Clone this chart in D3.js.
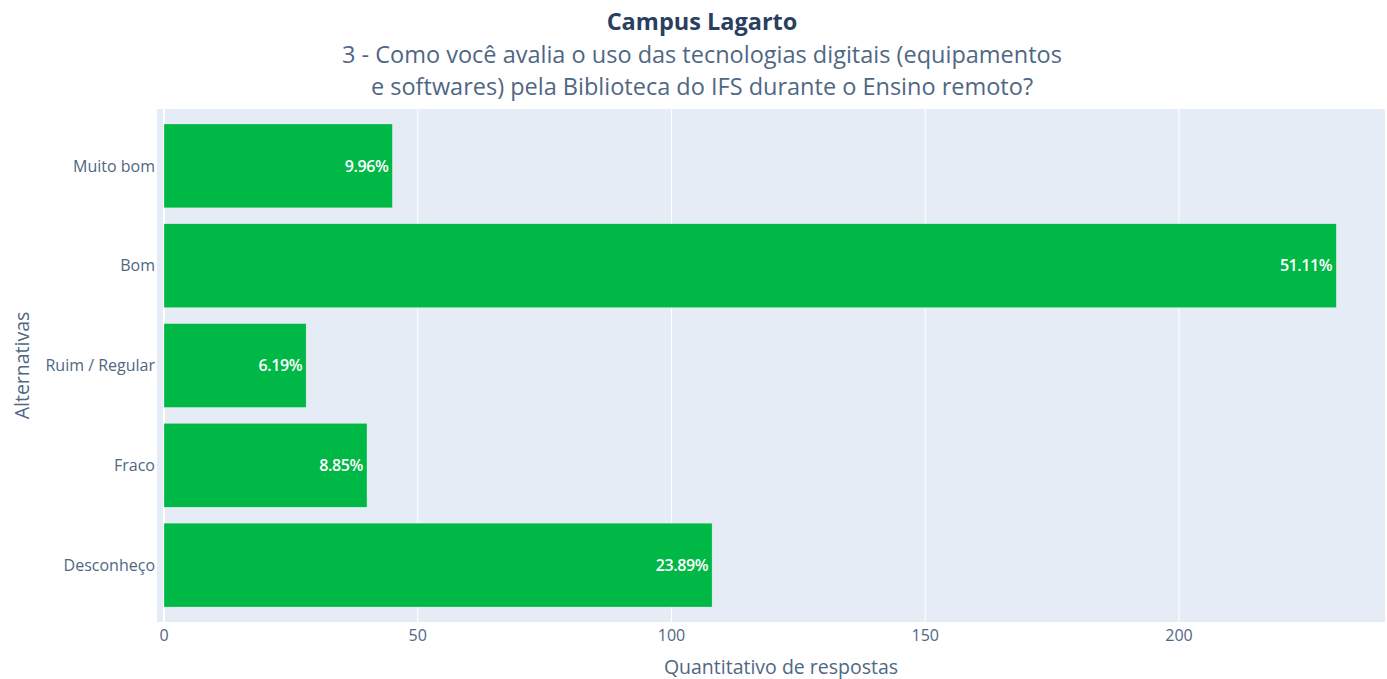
<!DOCTYPE html>
<html>
<head>
<meta charset="utf-8">
<script src="https://cdn.jsdelivr.net/npm/d3@7"></script>
<style>
  body { margin: 0; background: #fff; }
  svg { display: block; font-family: "Open Sans", sans-serif; }
</style>
</head>
<body>
<div class="chart"></div>
<script>
const categories = ['Muito bom', 'Bom', 'Ruim / Regular', 'Fraco', 'Desconheço']
const counts = [45, 231, 28, 40, 108]
const percentLabels = ['9.96%', '51.11%', '6.19%', '8.85%', '23.89%']
const xTicks = [0, 50, 100, 150, 200]

const width = 1387
const height = 679
const margin = {top: 109, right: 2, bottom: 57, left: 157}

const svg = d3.select('.chart')
  .append('svg')
  .attr('width', width)
  .attr('height', height)

const xScale = d3.scaleLinear()
  .domain([-1.38, 240.6])
  .range([margin.left, width - margin.right])

const yScale = d3.scaleBand()
  .domain(categories)
  .range([margin.top + 7, height - margin.bottom - 7])
  .paddingInner(0.16)
  .paddingOuter(0.08)

// plot background
svg.append('rect')
  .attr('x', margin.left)
  .attr('y', margin.top)
  .attr('width', width - margin.left - margin.right)
  .attr('height', height - margin.top - margin.bottom)
  .attr('fill', '#e5ecf6')

// grid
svg.append('g')
  .selectAll('line')
  .data(xTicks)
  .join('line')
  .attr('x1', d => xScale(d))
  .attr('x2', d => xScale(d))
  .attr('y1', margin.top)
  .attr('y2', height - margin.bottom)
  .attr('stroke', '#fff')
  .attr('stroke-width', d => d === 0 ? 2 : 1)

// bars
svg.append('g')
  .selectAll('rect')
  .data(counts)
  .join('rect')
  .attr('x', xScale(0))
  .attr('y', (d, i) => yScale(categories[i]))
  .attr('width', d => xScale(d) - xScale(0))
  .attr('height', yScale.bandwidth())
  .attr('fill', '#00b846')
  .attr('stroke', 'rgba(255,255,255,0.5)')
  .attr('stroke-width', 0.5)

// bar labels
svg.append('g')
  .selectAll('text')
  .data(counts)
  .join('text')
  .attr('x', d => xScale(d) - 4)
  .attr('y', (d, i) => yScale(categories[i]) + yScale.bandwidth() / 2)
  .attr('dy', '0.35em')
  .attr('text-anchor', 'end')
  .attr('fill', '#fff')
  .attr('font-size', 16)
  .attr('font-weight', 600)
  .style('letter-spacing', '-0.4px')
  .text((d, i) => percentLabels[i])

// y axis labels
svg.append('g')
  .selectAll('text')
  .data(categories)
  .join('text')
  .attr('x', margin.left - 2)
  .attr('y', d => yScale(d) + yScale.bandwidth() / 2)
  .attr('dy', '0.35em')
  .attr('text-anchor', 'end')
  .attr('fill', '#506784')
  .attr('font-size', 16)
  .text(d => d)

// x axis labels
svg.append('g')
  .selectAll('text')
  .data(xTicks)
  .join('text')
  .attr('x', d => xScale(d))
  .attr('y', height - margin.bottom + 19)
  .attr('text-anchor', 'middle')
  .attr('fill', '#506784')
  .attr('font-size', 16)
  .text(d => d)

// axis titles
svg.append('text')
  .attr('x', 781)
  .attr('y', 674)
  .attr('text-anchor', 'middle')
  .attr('fill', '#506784')
  .attr('font-size', 19.5)
  .text('Quantitativo de respostas')

svg.append('text')
  .attr('transform', 'translate(29,' + (margin.top + (height - margin.top - margin.bottom) / 2) + ') rotate(-90)')
  .attr('text-anchor', 'middle')
  .attr('fill', '#506784')
  .attr('font-size', 19.5)
  .text('Alternativas')

// title
const title = svg.append('text')
  .attr('x', 702)
  .attr('text-anchor', 'middle')
  .attr('fill', '#2a3f5f')
  .attr('font-size', 23.5)

title.append('tspan')
  .attr('x', 702).attr('y', 30)
  .attr('font-weight', 700)
  .text('Campus Lagarto')
title.append('tspan')
  .attr('x', 702).attr('y', 63)
  .attr('fill', '#506784')
  .text('3 - Como você avalia o uso das tecnologias digitais (equipamentos')
title.append('tspan')
  .attr('x', 702).attr('y', 95)
  .attr('fill', '#506784')
  .text('e softwares) pela Biblioteca do IFS durante o Ensino remoto?')
</script>
</body>
</html>
